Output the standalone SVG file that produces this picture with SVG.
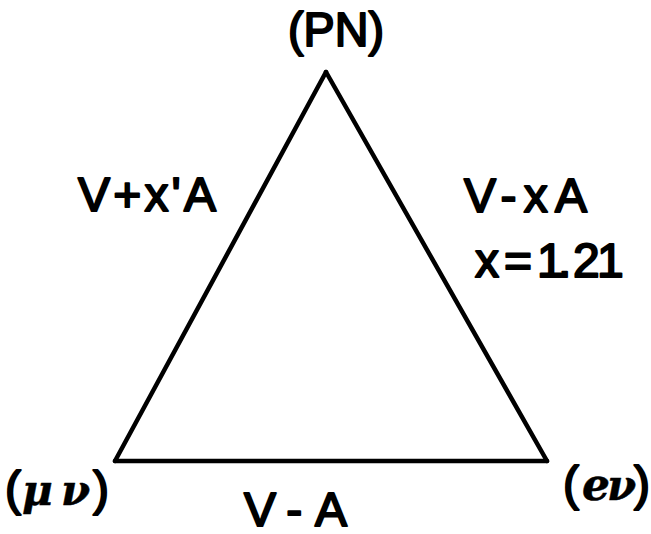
<svg xmlns="http://www.w3.org/2000/svg" width="651" height="534" viewBox="0 0 651 534">
<style>
.t{font-family:"Liberation Sans","DejaVu Sans",sans-serif;font-size:48px;fill:#000;stroke:#000;stroke-width:2;stroke-linejoin:round;}
.g{font-family:"DejaVu Serif","Liberation Serif",serif;font-style:italic;font-weight:bold;stroke-width:0.5;}
.e{fill:none;stroke:#000;stroke-width:4.5;stroke-linejoin:round;stroke-linecap:round;}
</style>
<rect width="651" height="534" fill="#fff"/>
<g id="connectors">
<line class="e" x1="326" y1="72" x2="115" y2="461"/>
<line class="e" x1="326" y1="72" x2="547" y2="461"/>
<line class="e" x1="115" y1="461" x2="547" y2="461"/>
</g>
<g id="node-PN"><text class="t" x="288" y="46" font-size="45" textLength="96" lengthAdjust="spacingAndGlyphs">(PN)</text></g>
<g id="node-mu"><text class="t" x="5" y="505" font-size="46">(<tspan class="g" x="22" font-size="42">μ</tspan><tspan class="g" x="61" font-size="42">ν</tspan><tspan x="93">)</tspan></text></g>
<g id="node-e"><text class="t" x="563" y="500" font-size="46">(<tspan class="g" x="582" font-size="44">e</tspan><tspan class="g" x="607" font-size="42">ν</tspan><tspan x="634">)</tspan></text></g>
<g id="labels">
<text class="t" x="78" y="211" font-size="49" textLength="138" lengthAdjust="spacing">V+x'A</text>
<text class="t" x="464" y="212" font-size="49" textLength="123" lengthAdjust="spacing">V-xA</text>
<text class="t" y="277" font-size="49"><tspan x="475">x</tspan><tspan x="504">=</tspan><tspan x="537">1</tspan><tspan x="558">.</tspan><tspan x="573">2</tspan><tspan x="597">1</tspan></text>
<text class="t" x="244" y="526" font-size="47" textLength="103" lengthAdjust="spacing">V-A</text>
</g>
</svg>
